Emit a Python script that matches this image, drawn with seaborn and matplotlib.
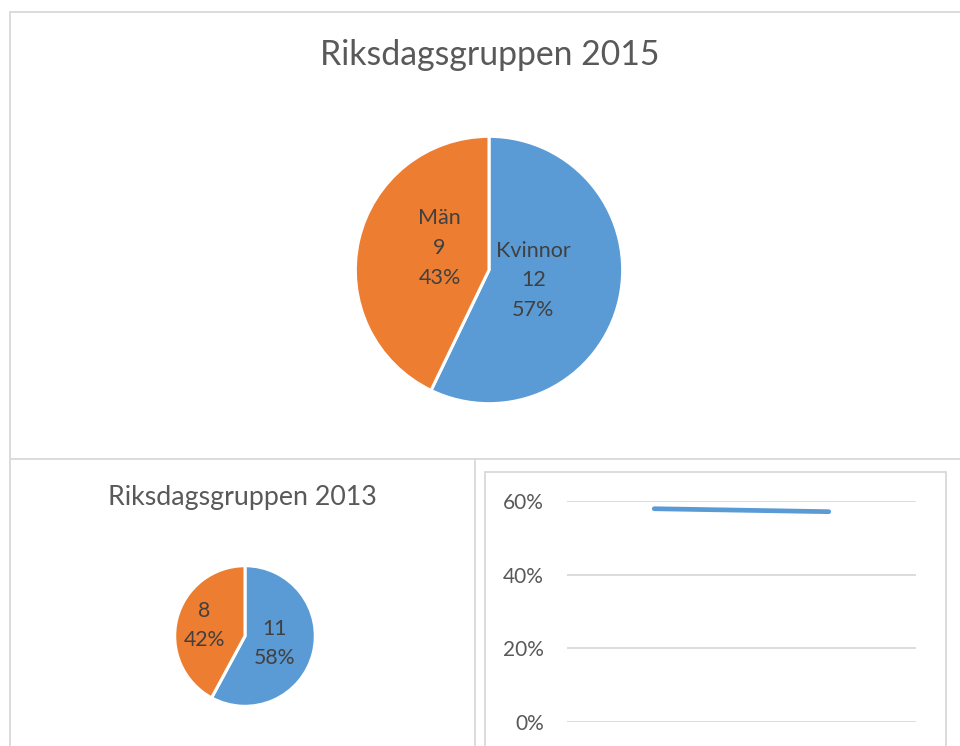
import matplotlib
matplotlib.use("Agg")
import matplotlib.pyplot as plt
from matplotlib.lines import Line2D
import numpy as np
import pandas as pd
import seaborn as sns

# ---- data ----
genders = ["Kvinnor", "Män"]
counts_2015 = [12, 9]
counts_2013 = [11, 8]
years = ["2013", "2015"]
share_kvinnor = [0.579, 0.571]
yticks = [0.0, 0.2, 0.4, 0.6]
ytick_labels = ["0%", "20%", "40%", "60%"]
title_2015 = "Riksdagsgruppen 2015"
title_2013 = "Riksdagsgruppen 2013"

BLUE = "#5B9BD5"
ORANGE = "#ED7D31"
GRID = "#D9D9D9"
TXT = "#595959"
LBL = "#404040"

sns.set_theme(style="white")
plt.rcParams["font.family"] = ["Lato", "DejaVu Sans"]

W, H = 960, 746
fig = plt.figure(figsize=(W / 100, H / 100), dpi=100)
fig.patch.set_facecolor("white")


def fx(x):
    return x / W


def fy(y):
    return 1 - y / H


def fline(x0, y0, x1, y1, lw=1.3):
    fig.add_artist(Line2D([fx(x0), fx(x1)], [fy(y0), fy(y1)], color=GRID,
                          lw=lw, transform=fig.transFigure, zorder=0))


def px_axes(left, top, width, height):
    return fig.add_axes([fx(left), fy(top + height), width / W, height / H])


# ---- panel frames ----
fline(9.5, 11.5, 961, 11.5)
fline(9.5, 11.5, 9.5, 747)
fline(9.5, 459, 961, 459)
fline(475, 459, 475, 747)
# inner frame of line chart
fline(485, 471.5, 946, 471.5)
fline(485, 471.5, 485, 747)
fline(946, 471.5, 946, 747)


def draw_pie(ax, counts, labels_on, dists, fs):
    wedges, _ = ax.pie(counts, colors=[BLUE, ORANGE], startangle=90,
                       counterclock=False, radius=1,
                       wedgeprops=dict(edgecolor="white", linewidth=2.2))
    total = sum(counts)
    for w, c, name, d in zip(wedges, counts, genders, dists):
        ang = np.deg2rad((w.theta1 + w.theta2) / 2)
        pct = round(100 * c / total)
        txt = f"{name}\n{c}\n{pct}%" if labels_on else f"{c}\n{pct}%"
        ax.text(d[0] * np.cos(ang), d[0] * np.sin(ang) + d[1], txt,
                ha="center", va="center", fontsize=fs, color=LBL,
                linespacing=1.6)
    ax.set_xlim(-1.01, 1.01)
    ax.set_ylim(-1.01, 1.01)
    ax.set_aspect("equal")
    ax.axis("off")


# ---- big pie 2015 ----
ax1 = px_axes(354, 135, 270, 270)
draw_pie(ax1, counts_2015, True, [(0.34, 0.0), (0.38, 0.08)], 15.5)
fig.text(fx(489.5), fy(55), title_2015, ha="center", va="center",
         fontsize=24.3, color=TXT)

# ---- small pie 2013 ----
ax2 = px_axes(174, 565, 142, 142)
draw_pie(ax2, counts_2013, False, [(0.43, 0.0), (0.6, 0.0)], 15.3)
fig.text(fx(242), fy(498), title_2013, ha="center", va="center",
         fontsize=19.3, color=TXT)

# ---- line chart ----
df = pd.DataFrame({"year": years, "share": share_kvinnor})
df["pos"] = np.arange(len(years))
ax3 = px_axes(567, 501, 349, 221)
sns.lineplot(data=df, x="pos", y="share", ax=ax3, color=BLUE, linewidth=3.4,
             solid_capstyle="round")
ax3.set_xlim(-0.5, len(years) - 0.5)
ax3.set_ylim(0, 0.6)
ax3.set_yticks(yticks)
ax3.set_yticklabels(ytick_labels, fontsize=15, color=TXT)
ax3.set_xticks([])
ax3.set_xlabel("")
ax3.set_ylabel("")
ax3.yaxis.grid(True, color=GRID, linewidth=1.3)
ax3.set_axisbelow(True)
ax3.tick_params(axis="y", length=0, pad=16.5)
for s in ax3.spines.values():
    s.set_visible(False)
ax3.patch.set_alpha(0)

fig.savefig("out.png", dpi=100, facecolor="white")
